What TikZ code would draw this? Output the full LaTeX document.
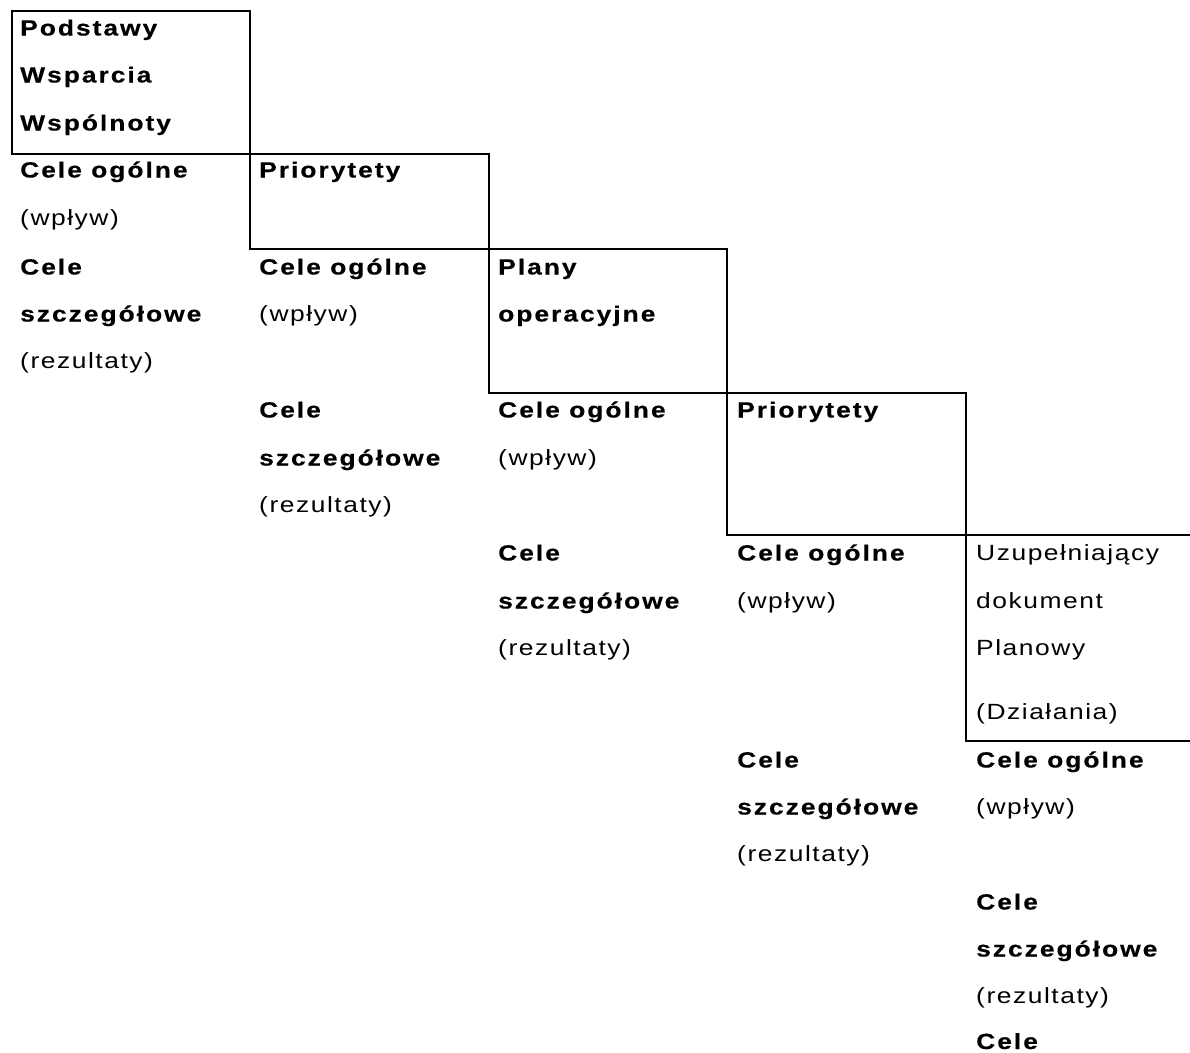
\documentclass[tikz,border=0pt]{standalone}
\usepackage{fontspec}
\setmainfont{Liberation Sans}[FakeStretch=1.2,LetterSpace=7,BoldFeatures={FakeStretch=1.2,LetterSpace=9,FakeBold=0.3}]
\begin{document}
\begin{tikzpicture}[x=1pt,y=-1pt,
  frame/.style={draw=black,line width=1.7pt},
  bt/.style={anchor=base west,inner sep=0pt,font=\fontsize{22}{26}\selectfont\bfseries},
  rt/.style={anchor=base west,inner sep=0pt,font=\fontsize{22}{26}\selectfont}]
\useasboundingbox (0,0) rectangle (1190,1052);
% boxes
\draw[frame] (12,11) rectangle (250,154);
\draw[frame] (250,154) rectangle (489,249);
\draw[frame] (489,249) rectangle (727,393);
\draw[frame] (727,393) rectangle (966,535);
\draw[frame] (1192,535) -- (966,535) -- (966,741) -- (1192,741);
% column 1
\node[bt] (a1) at (20,35.5) {Podstawy};
\node[bt] (a2) at (20,82.5) {Wsparcia};
\node[bt] (a3) at (20,130.5) {Wspólnoty};
\node[bt] (a4) at (20,177.5) {Cele ogólne};
\node[rt] (a5) at (20,225.5) {(wpływ)};
\node[bt] (a6) at (20,274.5) {Cele};
\node[bt] (a7) at (20,321.5) {szczegółowe};
\node[rt] (a8) at (20,368.5) {(rezultaty)};
% column 2
\node[bt] (b1) at (259,177.5) {Priorytety};
\node[bt] (b2) at (259,274.5) {Cele ogólne};
\node[rt] (b3) at (259,321.5) {(wpływ)};
\node[bt] (b4) at (259,417.5) {Cele};
\node[bt] (b5) at (259,465.5) {szczegółowe};
\node[rt] (b6) at (259,512.5) {(rezultaty)};
% column 3
\node[bt] (c1) at (498,274.5) {Plany};
\node[bt] (c2) at (498,321.5) {operacyjne};
\node[bt] (c3) at (498,417.5) {Cele ogólne};
\node[rt] (c4) at (498,465.5) {(wpływ)};
\node[bt] (c5) at (498,560.5) {Cele};
\node[bt] (c6) at (498,608.5) {szczegółowe};
\node[rt] (c7) at (498,655.5) {(rezultaty)};
% column 4
\node[bt] (d1) at (737,417.5) {Priorytety};
\node[bt] (d2) at (737,560.5) {Cele ogólne};
\node[rt] (d3) at (737,608.5) {(wpływ)};
\node[bt] (d4) at (737,767.5) {Cele};
\node[bt] (d5) at (737,814.5) {szczegółowe};
\node[rt] (d6) at (737,861.5) {(rezultaty)};
% column 5
\node[rt] (e1) at (976,560.5) {Uzupełniający};
\node[rt] (e2) at (976,608.5) {dokument};
\node[rt] (e3) at (976,655.5) {Planowy};
\node[rt] (e4) at (976,719.5) {(Działania)};
\node[bt] (e5) at (976,767.5) {Cele ogólne};
\node[rt] (e6) at (976,814.5) {(wpływ)};
\node[bt] (e7) at (976,909.5) {Cele};
\node[bt] (e8) at (976,956.5) {szczegółowe};
\node[rt] (e9) at (976,1003.5) {(rezultaty)};
\node[bt] (e10) at (976,1049) {Cele};
\end{tikzpicture}
\end{document}
